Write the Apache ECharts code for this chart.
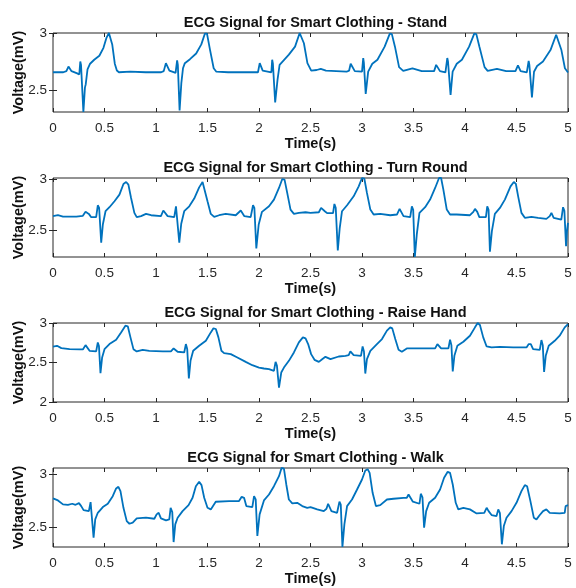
<!DOCTYPE html>
<html><head><meta charset="utf-8">
<script src="https://cdn.jsdelivr.net/npm/echarts@6/dist/echarts.min.js"></script>
<style>html,body{margin:0;padding:0;background:#fff}#c{width:576px;height:588px}</style>
</head><body><div id="c"></div>
<script>
// ---- data ----
const titles = [
  'ECG Signal for Smart Clothing - Stand',
  'ECG Signal for Smart Clothing - Turn Round',
  'ECG Signal for Smart Clothing - Raise Hand',
  'ECG Signal for Smart Clothing - Walk'
];
const xAxisTitle = 'Time(s)';
const yAxisTitle = 'Voltage(mV)';
const yMins = [2.306, 2.242, 2.0, 2.3125];
const yMaxs = [3.0, 3.01, 3.0, 3.055];
const yTicks1 = [2.5, 3];
const yTicks2 = [2.5, 3];
const yTicks3 = [2, 2.5, 3];
const yTicks4 = [2.5, 3];

const standT = [0,0.1,0.13,0.15,0.165,0.18,0.235,0.255,0.265,0.272,0.295,0.31,0.318,0.335,0.36,0.4,0.45,0.49,0.52,0.543,0.558,0.575,0.6,0.62,0.64,0.75,0.9,1.05,1.075,1.096,1.11,1.13,1.19,1.205,1.212,1.229,1.246,1.262,1.28,1.33,1.39,1.44,1.475,1.495,1.525,1.56,1.586,1.7,1.99,2.007,2.02,2.036,2.12,2.128,2.135,2.157,2.18,2.2,2.29,2.35,2.395,2.41,2.436,2.47,2.507,2.56,2.6,2.65,2.85,2.875,2.89,2.905,2.93,3.0,3.012,3.018,3.036,3.06,3.1,3.15,3.22,3.27,3.29,3.32,3.36,3.4,3.49,3.58,3.7,3.72,3.735,3.757,3.81,3.828,3.835,3.86,3.88,3.92,3.97,4.04,4.09,4.11,4.14,4.19,4.22,4.31,4.4,4.49,4.514,4.525,4.54,4.6,4.618,4.625,4.65,4.67,4.7,4.757,4.83,4.885,4.9,4.936,4.97,5.0];
const standV = [2.655,2.655,2.665,2.705,2.70,2.665,2.645,2.635,2.75,2.72,2.306,2.52,2.55,2.68,2.73,2.765,2.8,2.87,2.96,3.0,2.99,2.9,2.73,2.67,2.655,2.66,2.655,2.655,2.665,2.735,2.72,2.67,2.65,2.76,2.72,2.32,2.56,2.69,2.735,2.77,2.82,2.9,2.995,2.995,2.85,2.69,2.66,2.655,2.655,2.735,2.72,2.67,2.655,2.765,2.73,2.39,2.59,2.72,2.81,2.88,3.0,2.99,2.91,2.735,2.67,2.675,2.685,2.67,2.66,2.67,2.73,2.72,2.665,2.66,2.78,2.74,2.465,2.66,2.73,2.765,2.88,2.995,2.99,2.88,2.7,2.667,2.69,2.665,2.665,2.72,2.715,2.665,2.655,2.78,2.75,2.456,2.66,2.73,2.765,2.88,2.995,2.99,2.88,2.7,2.667,2.685,2.665,2.665,2.715,2.71,2.665,2.655,2.755,2.72,2.435,2.66,2.71,2.75,2.85,2.985,2.985,2.85,2.69,2.653];

const turnT = [0,0.048,0.097,0.161,0.226,0.29,0.316,0.332,0.348,0.371,0.419,0.435,0.448,0.468,0.484,0.51,0.548,0.597,0.645,0.684,0.71,0.732,0.758,0.79,0.813,0.855,0.903,0.952,1.048,1.071,1.09,1.113,1.177,1.194,1.207,1.226,1.245,1.274,1.323,1.371,1.419,1.452,1.471,1.5,1.532,1.565,1.613,1.677,1.774,1.823,1.839,1.858,1.919,1.942,1.955,1.974,1.997,2.029,2.097,2.145,2.194,2.226,2.248,2.274,2.306,2.339,2.387,2.452,2.5,2.581,2.603,2.619,2.639,2.661,2.719,2.732,2.745,2.765,2.784,2.806,2.855,2.919,2.968,3.0,3.023,3.048,3.081,3.113,3.177,3.274,3.339,3.365,3.381,3.403,3.468,3.484,3.497,3.513,3.532,3.558,3.613,3.661,3.71,3.748,3.768,3.79,3.823,3.855,3.919,4.048,4.081,4.097,4.119,4.139,4.203,4.216,4.229,4.242,4.261,4.29,4.339,4.387,4.442,4.474,4.494,4.516,4.548,4.581,4.645,4.71,4.79,4.823,4.839,4.861,4.935,4.952,4.965,4.981,4.99,5.0];
const turnV = [2.639,2.648,2.635,2.635,2.635,2.642,2.681,2.694,2.661,2.629,2.629,2.745,2.719,2.381,2.558,2.687,2.726,2.784,2.848,2.952,2.971,2.945,2.816,2.671,2.629,2.639,2.661,2.648,2.639,2.694,2.71,2.639,2.629,2.735,2.72,2.381,2.565,2.687,2.735,2.81,2.919,2.971,2.961,2.784,2.661,2.632,2.648,2.661,2.648,2.694,2.703,2.639,2.629,2.745,2.72,2.326,2.558,2.681,2.735,2.8,2.913,3.0,2.994,2.865,2.703,2.661,2.671,2.677,2.671,2.677,2.719,2.732,2.687,2.668,2.668,2.758,2.72,2.306,2.526,2.687,2.745,2.832,2.929,3.01,3.003,2.865,2.703,2.655,2.661,2.648,2.655,2.71,2.713,2.639,2.629,2.735,2.7,2.242,2.461,2.671,2.726,2.8,2.913,3.01,3.01,2.897,2.703,2.655,2.655,2.648,2.681,2.71,2.681,2.629,2.629,2.735,2.7,2.294,2.494,2.661,2.719,2.8,2.929,2.971,2.952,2.832,2.671,2.623,2.632,2.623,2.613,2.639,2.671,2.623,2.606,2.726,2.69,2.348,2.494,2.574];

const raiseT = [0,0.039,0.081,0.161,0.258,0.29,0.316,0.332,0.355,0.419,0.435,0.446,0.461,0.477,0.5,0.548,0.613,0.661,0.703,0.726,0.752,0.781,0.813,0.871,0.935,1.065,1.145,1.171,1.187,1.21,1.274,1.29,1.303,1.319,1.335,1.361,1.419,1.484,1.532,1.558,1.581,1.606,1.635,1.661,1.726,1.79,1.871,1.935,2.0,2.048,2.097,2.145,2.161,2.174,2.194,2.216,2.242,2.29,2.339,2.387,2.426,2.452,2.477,2.506,2.539,2.581,2.613,2.645,2.694,2.774,2.839,2.871,2.887,2.903,2.919,2.99,3.006,3.019,3.032,3.048,3.081,3.145,3.194,3.242,3.274,3.294,3.323,3.355,3.387,3.435,3.532,3.71,3.732,3.748,3.768,3.839,3.855,3.868,3.881,3.897,3.926,3.984,4.048,4.097,4.123,4.145,4.177,4.21,4.258,4.339,4.468,4.597,4.619,4.639,4.661,4.726,4.742,4.755,4.768,4.784,4.813,4.871,4.919,4.968,5.0];
const raiseV = [2.7,2.712,2.682,2.669,2.665,2.665,2.72,2.72,2.648,2.64,2.754,2.71,2.364,2.564,2.669,2.733,2.788,2.881,2.966,2.958,2.818,2.669,2.64,2.661,2.648,2.64,2.64,2.678,2.691,2.636,2.627,2.733,2.67,2.297,2.521,2.648,2.712,2.775,2.881,2.932,2.924,2.818,2.648,2.619,2.606,2.564,2.508,2.466,2.436,2.424,2.415,2.394,2.508,2.46,2.182,2.373,2.436,2.521,2.627,2.754,2.818,2.805,2.733,2.606,2.534,2.508,2.542,2.572,2.542,2.576,2.585,2.593,2.64,2.636,2.593,2.585,2.703,2.64,2.36,2.542,2.648,2.733,2.797,2.903,2.945,2.932,2.797,2.661,2.636,2.678,2.678,2.678,2.733,2.733,2.678,2.678,2.788,2.72,2.386,2.585,2.712,2.763,2.839,2.945,3.0,2.975,2.818,2.703,2.691,2.699,2.691,2.691,2.733,2.733,2.669,2.661,2.784,2.72,2.381,2.585,2.712,2.775,2.839,2.945,2.987];

const walkT = [0,0.048,0.097,0.145,0.187,0.2,0.219,0.252,0.274,0.297,0.348,0.365,0.381,0.394,0.41,0.435,0.484,0.532,0.58,0.613,0.635,0.655,0.684,0.716,0.742,0.774,0.813,0.903,0.984,1.006,1.026,1.048,1.097,1.129,1.142,1.158,1.171,1.187,1.21,1.258,1.316,1.355,1.387,1.419,1.442,1.468,1.5,1.532,1.58,1.71,1.806,1.832,1.855,1.877,1.935,1.952,1.968,1.984,2.006,2.048,2.097,2.145,2.194,2.219,2.242,2.265,2.29,2.323,2.371,2.42,2.468,2.5,2.565,2.629,2.655,2.671,2.687,2.703,2.758,2.781,2.794,2.81,2.829,2.855,2.903,2.952,3.0,3.032,3.055,3.074,3.103,3.135,3.177,3.242,3.306,3.403,3.435,3.452,3.468,3.494,3.558,3.571,3.587,3.603,3.623,3.652,3.71,3.758,3.797,3.832,3.855,3.881,3.91,3.935,3.984,4.048,4.113,4.187,4.21,4.229,4.258,4.306,4.323,4.339,4.358,4.377,4.403,4.452,4.5,4.548,4.581,4.603,4.635,4.668,4.694,4.726,4.758,4.79,4.823,4.919,4.968,4.977,5.0];
const walkV = [2.769,2.75,2.713,2.709,2.719,2.734,2.709,2.725,2.697,2.659,2.65,2.734,2.72,2.4,2.572,2.634,2.688,2.719,2.79,2.863,2.878,2.838,2.681,2.556,2.531,2.541,2.581,2.588,2.578,2.619,2.634,2.581,2.563,2.572,2.681,2.64,2.359,2.525,2.588,2.65,2.706,2.775,2.884,2.925,2.894,2.775,2.681,2.666,2.738,2.744,2.744,2.784,2.775,2.697,2.688,2.791,2.76,2.416,2.619,2.75,2.806,2.884,2.978,3.055,3.05,2.9,2.759,2.722,2.728,2.697,2.681,2.688,2.666,2.65,2.672,2.719,2.706,2.65,2.634,2.738,2.71,2.313,2.525,2.697,2.759,2.853,2.947,3.031,3.044,3.009,2.822,2.697,2.706,2.759,2.766,2.775,2.775,2.806,2.791,2.738,2.719,2.813,2.78,2.494,2.65,2.728,2.775,2.853,2.963,3.019,3.009,2.9,2.728,2.666,2.681,2.666,2.628,2.634,2.681,2.65,2.613,2.603,2.666,2.63,2.338,2.509,2.588,2.65,2.728,2.838,2.894,2.884,2.744,2.588,2.572,2.613,2.65,2.666,2.634,2.628,2.634,2.697,2.706];

// ---- chart ----
const FONT = '"Liberation Sans", Arial, Helvetica, sans-serif';
const AX = '#262626';
const gridTops = [33, 178, 323, 468];
const gridLeft = 53, gridWidth = 515, gridHeight = 79;
const seriesT = [standT, turnT, raiseT, walkT];
const seriesV = [standV, turnV, raiseV, walkV];
const yTicks = [yTicks1, yTicks2, yTicks3, yTicks4];

const option = {
  animation: false,
  backgroundColor: '#fff',
  title: [], grid: [], xAxis: [], yAxis: [], series: []
};
for (let i = 0; i < 4; i++) {
  option.title.push({
    text: titles[i], left: gridLeft + gridWidth / 2, top: gridTops[i] - 23, textAlign: 'center',
    textStyle: {fontFamily: FONT, fontSize: 14.5, fontWeight: 'bold', color: '#111'}
  });
  option.grid.push({
    left: gridLeft, top: gridTops[i], width: gridWidth, height: gridHeight,
    show: true, borderColor: AX, borderWidth: 1, backgroundColor: '#fff'
  });
  const tickStyle = {show: true, inside: true, length: 4, lineStyle: {color: AX, width: 1}};
  option.xAxis.push({
    gridIndex: i, type: 'value', min: 0, max: 5, interval: 0.5, position: 'bottom',
    axisLine: {show: false}, axisTick: tickStyle, splitLine: {show: false},
    axisLabel: {margin: 9, fontFamily: FONT, fontSize: 13.5, color: AX},
    name: xAxisTitle, nameLocation: 'middle', nameGap: 24,
    nameTextStyle: {fontFamily: FONT, fontSize: 14.5, fontWeight: 'bold', color: '#111'}
  });
  option.xAxis.push({
    gridIndex: i, type: 'value', min: 0, max: 5, interval: 0.5, position: 'top',
    axisLine: {show: false}, axisTick: tickStyle, splitLine: {show: false},
    axisLabel: {show: false}
  });
  option.yAxis.push({
    gridIndex: i, type: 'value', min: yMins[i], max: yMaxs[i], position: 'left',
    axisLine: {show: false}, splitLine: {show: false},
    axisTick: Object.assign({customValues: yTicks[i]}, tickStyle),
    axisLabel: {customValues: yTicks[i], margin: 6, fontFamily: FONT, fontSize: 13.5, color: AX},
    name: yAxisTitle, nameLocation: 'middle', nameGap: 27, nameRotate: 90, nameMoveOverlap: false,
    nameTextStyle: {fontFamily: FONT, fontSize: 14.5, fontWeight: 'bold', color: '#111'}
  });
  option.yAxis.push({
    gridIndex: i, type: 'value', min: yMins[i], max: yMaxs[i], position: 'right',
    axisLine: {show: false}, splitLine: {show: false},
    axisTick: Object.assign({customValues: yTicks[i]}, tickStyle),
    axisLabel: {show: false}
  });
  option.series.push({
    type: 'line', xAxisIndex: i * 2, yAxisIndex: i * 2,
    data: seriesT[i].map((t, k) => [t, seriesV[i][k]]),
    showSymbol: false, symbol: 'none', clip: true,
    lineStyle: {color: '#0072BD', width: 1.8}
  });
}
const chart = echarts.init(document.getElementById('c'), null, {renderer: 'canvas'});
chart.setOption(option);
</script></body></html>
